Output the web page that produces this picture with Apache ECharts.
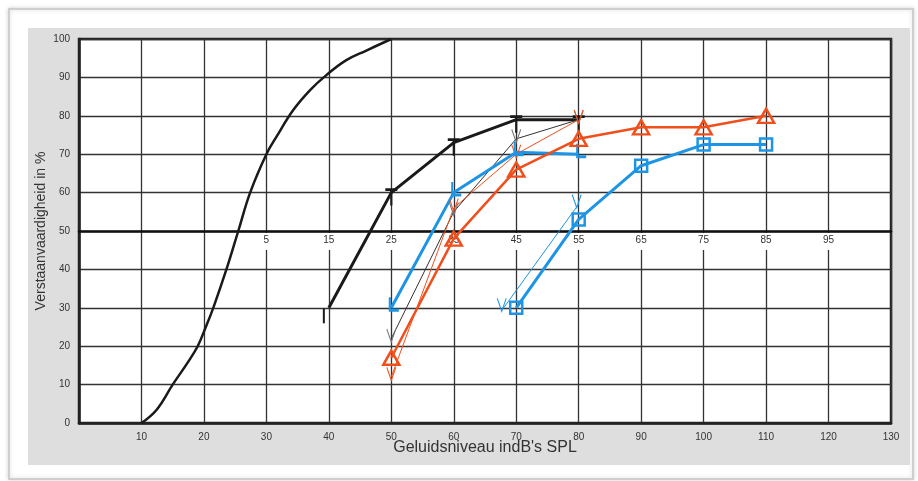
<!DOCTYPE html>
<html>
<head>
<meta charset="utf-8">
<script src="https://cdn.jsdelivr.net/npm/echarts@6/dist/echarts.min.js"></script>
<style>
html, body { margin: 0; padding: 0; background: #fff; }
#chart { width: 918px; height: 481px; }
</style>
</head>
<body>
<div id="chart"></div>
<script>
// x: geluidsniveau in dB SPL, y: verstaanvaardigheid in %
var splTicks = [10, 20, 30, 40, 50, 60, 70, 80, 90, 100, 110, 120, 130];
var hlTicks = [5, 15, 25, 35, 45, 55, 65, 75, 85, 95]; // dB HL langs de 50% lijn

var normaalCurve = [[10, 0], [12.4, 3.4], [15, 10], [17.5, 16], [19, 20], [20.3, 25], [21.5, 30], [23.6, 40], [25.5, 50], [27.4, 60],
    [30, 70], [31.6, 74.5], [34.3, 81.5], [37, 86.7], [39.6, 90.6], [42.8, 94.5], [46, 97], [50, 100]];
var zwartT = [[40, 30], [50, 60], [60, 73], [70, 79], [80, 79]];
var zwartV = [[50, 22], [60, 55], [70, 74], [80, 79]];
var roodDriehoek = [[50, 17], [60, 48], [70, 66], [80, 74], [90, 77], [100, 77], [110, 80]];
var roodV = [[50, 12], [60, 56], [70, 70], [80, 79]];
var blauwL = [[50, 30], [60, 60], [70, 70.5], [80, 70]];
var blauwV = [[68, 30], [80, 57]];
var blauwVierkant = [[70, 30], [80, 53], [90, 67], [100, 72.5], [110, 72.5]];

var ROOD = '#f04f1c';
var BLAUW = '#1e95e4';

var symV = 'path://M0,0 L5,12 L10,0';
var symL = 'path://M0,0 L0,12 L9,12';
var symT = 'path://M0,0 L10,0 M5,0 L5,12';

function openMarker(color, width) {
    return { color: 'rgba(0,0,0,0)', borderColor: color, borderWidth: width };
}

var chart = echarts.init(document.getElementById('chart'));

var option = {
    backgroundColor: '#fff',
    animation: false,
    textStyle: { fontFamily: 'Liberation Sans, Arial, sans-serif' },
    graphic: [
        {
            type: 'rect', left: 8, top: 8, z: -10,
            shape: { width: 904, height: 470 },
            style: { fill: '#fff', stroke: '#cfcfcf', lineWidth: 2, shadowBlur: 4, shadowColor: 'rgba(0,0,0,0.15)' }
        },
        {
            type: 'rect', left: 28, top: 28, z: -9,
            shape: { width: 882, height: 437 },
            style: { fill: '#dedede' }
        }
    ],
    grid: {
        left: 79, right: 27, top: 39, bottom: 58,
        show: true, backgroundColor: '#fff', borderColor: '#222', borderWidth: 2.5
    },
    xAxis: [
        {
            type: 'value', min: 0, max: 130, interval: 10,
            name: "Geluidsniveau indB's SPL", nameLocation: 'middle', nameGap: 17,
            nameMoveOverlap: false,
            nameTextStyle: { fontSize: 16, color: '#333' },
            axisLine: { show: true, lineStyle: { color: '#222', width: 2.5 } },
            axisTick: { show: false },
            axisLabel: {
                color: '#333', fontSize: 10, margin: 9,
                customValues: splTicks
            },
            splitLine: { show: true, lineStyle: { color: '#333', width: 1.3 } }
        },
        {
            type: 'value', min: -25, max: 105, position: 'bottom', offset: -192,
            axisLine: { show: true, onZero: false, lineStyle: { color: '#111', width: 2.5 } },
            axisTick: { show: false },
            axisLabel: {
                color: '#333', fontSize: 10, margin: 2,
                backgroundColor: '#fff', padding: [2, 3, 5, 3],
                customValues: hlTicks
            },
            splitLine: { show: false }
        }
    ],
    yAxis: {
        type: 'value', min: 0, max: 100, interval: 10,
        name: 'Verstaanvaardigheid in %', nameLocation: 'middle', nameGap: 31,
        nameMoveOverlap: false,
        nameTextStyle: { fontSize: 14, color: '#333' },
        axisLine: { show: true, lineStyle: { color: '#222', width: 2.5 } },
        axisTick: { show: false },
        axisLabel: { color: '#333', fontSize: 10, margin: 9 },
        splitLine: { show: true, lineStyle: { color: '#333', width: 1.3 } }
    },
    series: [
        {
            name: 'normaal', type: 'line', data: normaalCurve, smooth: 0.4,
            showSymbol: false, lineStyle: { color: '#1a1a1a', width: 2.5 }
        },
        {
            name: 'zwart T', type: 'line',
            data: zwartT.map(function (p, i) {
                if (i === 0) {
                    return { value: p, symbol: 'rect', symbolSize: [2, 15], symbolOffset: [-5, 8],
                        itemStyle: { color: '#1a1a1a', borderWidth: 0 } };
                }
                return { value: p };
            }),
            symbol: symT, symbolSize: [12, 16], symbolOffset: [0, 5],
            lineStyle: { color: '#1a1a1a', width: 3 },
            itemStyle: openMarker('#1a1a1a', 2.5)
        },
        {
            name: 'zwart V', type: 'line', data: zwartV,
            symbol: symV, symbolSize: [9, 13], symbolOffset: [0, -3],
            lineStyle: { color: '#333', width: 1 },
            itemStyle: openMarker('#777', 1.2)
        },
        {
            name: 'rood V', type: 'line', data: roodV,
            symbol: symV, symbolSize: [9, 13], symbolOffset: [0, -3],
            lineStyle: { color: ROOD, width: 1 },
            itemStyle: openMarker(ROOD, 1.2)
        },
        {
            name: 'blauw V', type: 'line', data: blauwV,
            symbol: symV, symbolSize: [9, 13], symbolOffset: [-2, -3],
            lineStyle: { color: BLAUW, width: 1 },
            itemStyle: openMarker(BLAUW, 1.2)
        },
        {
            name: 'blauw L', type: 'line', data: blauwL,
            symbol: symL, symbolSize: [9, 13], symbolOffset: [3, -4],
            lineStyle: { color: BLAUW, width: 3 },
            itemStyle: openMarker(BLAUW, 2.5)
        },
        {
            name: 'rood driehoek', type: 'line', data: roodDriehoek,
            symbol: 'triangle', symbolSize: [16, 14],
            lineStyle: { color: ROOD, width: 2.5 },
            itemStyle: openMarker(ROOD, 2.5)
        },
        {
            name: 'blauw vierkant', type: 'line', data: blauwVierkant,
            symbol: 'rect', symbolSize: 12,
            lineStyle: { color: BLAUW, width: 3 },
            itemStyle: openMarker(BLAUW, 2.5)
        }
    ]
};

chart.setOption(option);
</script>
</body>
</html>
